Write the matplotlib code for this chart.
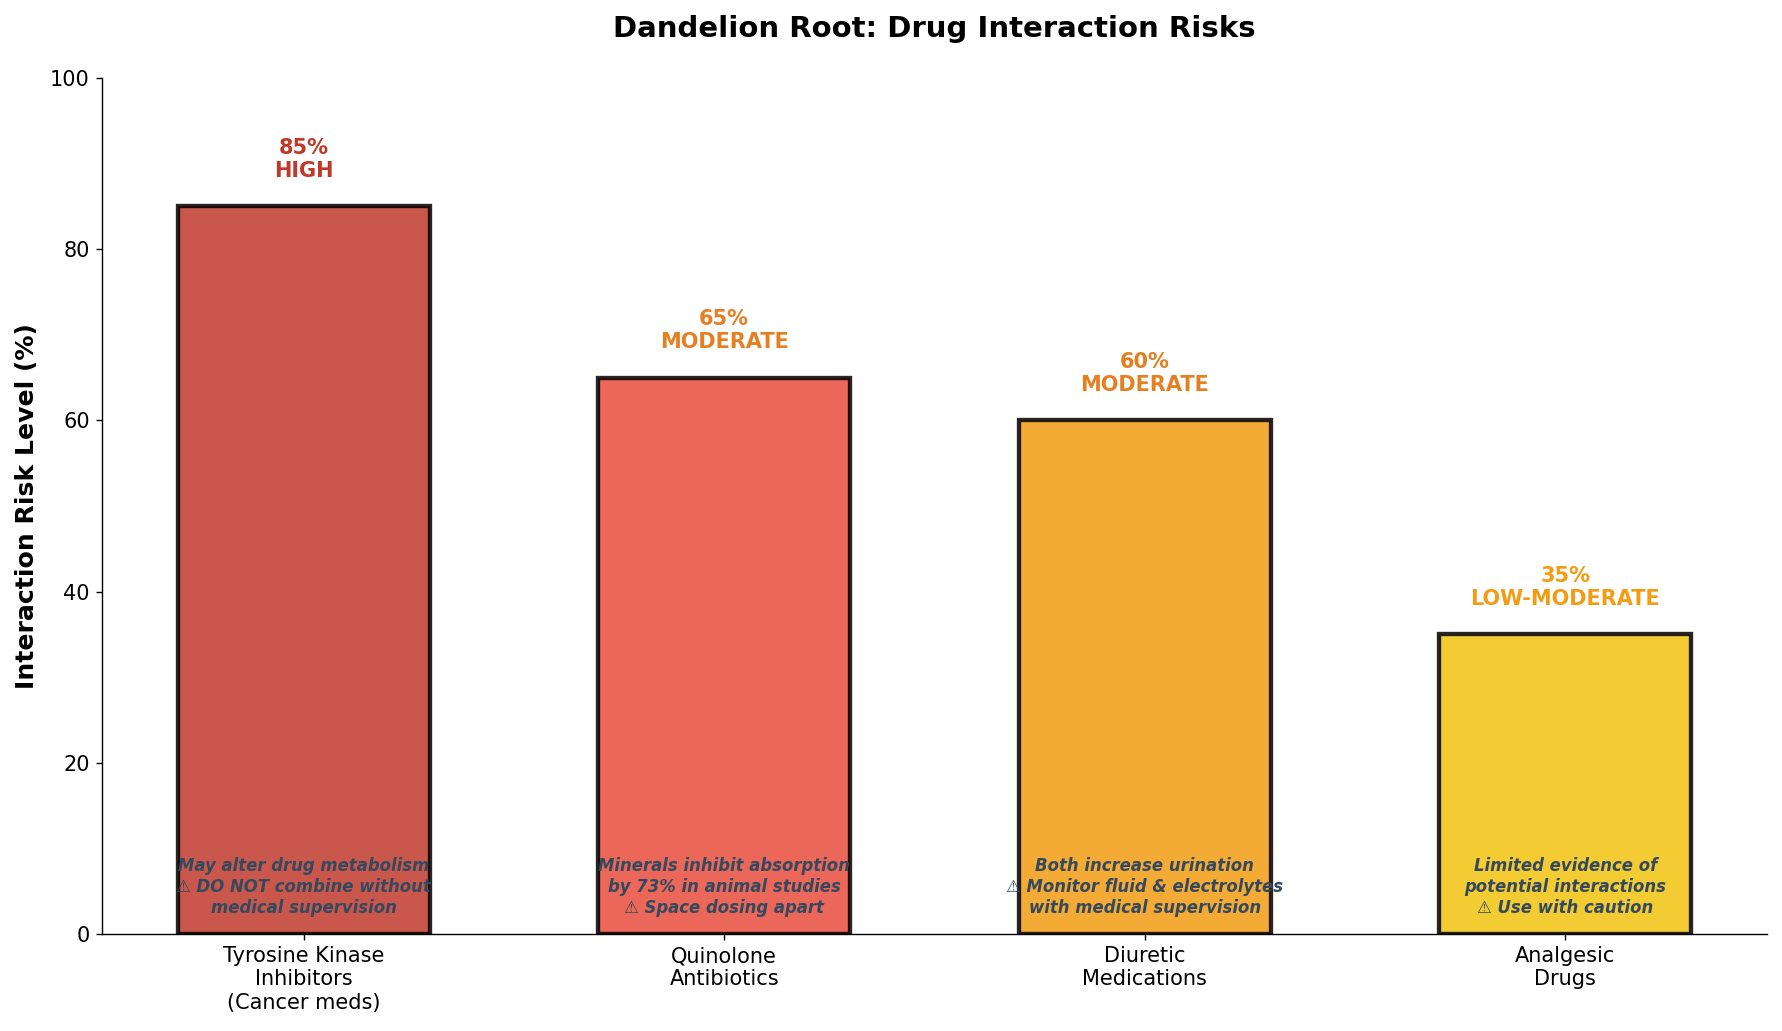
import matplotlib
matplotlib.use("Agg")
import matplotlib.pyplot as plt

categories = ["Tyrosine Kinase\nInhibitors\n(Cancer meds)", "Quinolone\nAntibiotics",
              "Diuretic\nMedications", "Analgesic\nDrugs"]
risk_values = [85, 65, 60, 35]
risk_levels = ["HIGH", "MODERATE", "MODERATE", "LOW-MODERATE"]
bar_colors = ["#C0392B", "#E74C3C", "#F39C12", "#F1C40F"]
level_colors = ["#C0392B", "#E67E22", "#E67E22", "#F39C12"]
notes = [
    "May alter drug metabolism\n\u26a0 DO NOT combine without\nmedical supervision",
    "Minerals inhibit absorption\nby 73% in animal studies\n\u26a0 Space dosing apart",
    "Both increase urination\n\u26a0 Monitor fluid & electrolytes\nwith medical supervision",
    "Limited evidence of\npotential interactions\n\u26a0 Use with caution",
]

fig = plt.figure(figsize=(1782/125, 1031/125), dpi=125)
ax = fig.add_axes([0.0572, 0.0941, 0.9344, 0.8302])

x = list(range(len(categories)))
bars = ax.bar(x, risk_values, width=0.6, color=bar_colors, edgecolor="black",
              linewidth=2.5, alpha=0.85)

for xi, v, lvl, lc, note in zip(x, risk_values, risk_levels, level_colors, notes):
    ax.text(xi, v + 3, f"{v}%\n{lvl}", ha="center", va="bottom", fontsize=12,
            fontweight="bold", color=lc)
    ax.text(xi, 5.5, note, ha="center", va="center", fontsize=9.5, fontweight="bold",
            style="italic", color="#34495E")

ax.set_xticks(x)
ax.set_xticklabels(categories, fontsize=12)
ax.tick_params(axis="y", labelsize=12)
ax.set_ylim(0, 100)
ax.set_ylabel("Interaction Risk Level (%)", fontsize=14.5, fontweight="bold", labelpad=6.6)
ax.set_title("Dandelion Root: Drug Interaction Risks", fontsize=16.8, fontweight="bold", pad=23.5)
ax.spines["top"].set_visible(False)
ax.spines["right"].set_visible(False)

fig.savefig("out.png", dpi=125)
